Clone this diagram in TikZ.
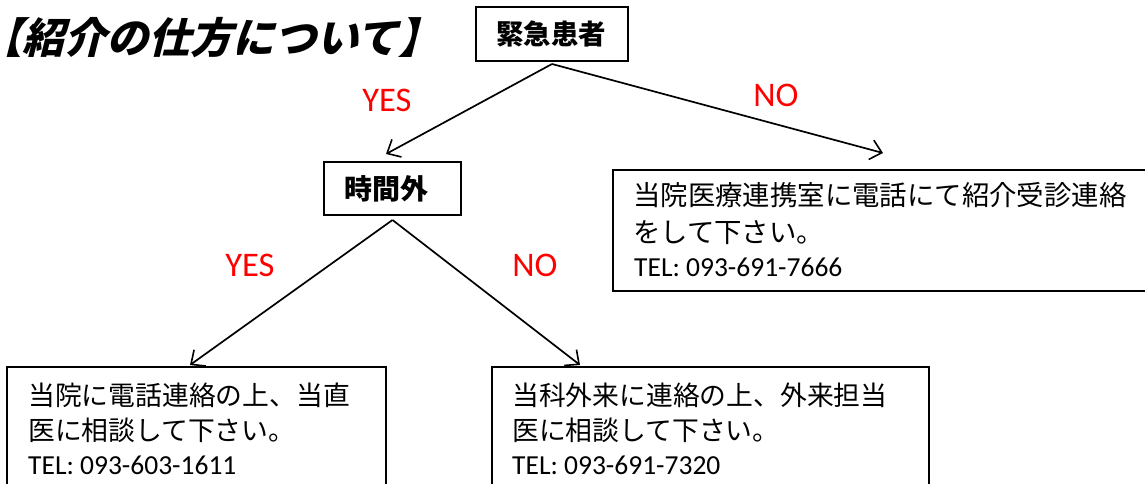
\documentclass[tikz,border=0pt]{standalone}
\usepackage{fontspec}
\setmainfont{Carlito}
\newfontfamily\cjk{Noto Sans CJK JP}
\newfontfamily\cjksl{Noto Sans CJK JP}[FakeSlant=0.25]
\usetikzlibrary{arrows.meta}
\begin{document}
\begin{tikzpicture}[x=1pt,y=-1pt,
  box/.style={draw=black, line width=1.9pt, inner sep=0pt, outer sep=0pt},
  arr/.style={line width=1.7pt, -{Straight Barb[length=11pt,width=20pt,line width=1.6pt]}},
  lab/.style={text=red, font=\fontsize{34.5}{40}\selectfont, inner sep=0pt},
  jtb/.style={font=\cjk\bfseries\fontsize{27.5}{32}\selectfont, inner sep=0pt},
  jt/.style={font=\cjk\fontsize{26.8}{32}\selectfont, inner sep=0pt, anchor=base west},
  jtr/.style={font=\cjk\fontsize{27.4}{32}\selectfont, inner sep=0pt, anchor=base west},
  tel/.style={font=\fontsize{27.5}{32}\selectfont, inner sep=0pt, anchor=base west}]
\useasboundingbox (0,0) rectangle (1145,484);
\clip (0,0) rectangle (1145,484);
% title
\node[font=\cjksl\bfseries\fontsize{42}{48}\selectfont, inner sep=0pt, anchor=base west] (title) at (0,54) {\kern-20pt【紹介の仕方について】};
% boxes
\node[box, minimum width=152pt, minimum height=54pt] (emg) at (552,34) {};
\node[jtb] (emgt) at (551,34) {緊急患者};
\node[box, minimum width=137pt, minimum height=53pt] (gai) at (392.5,188.5) {};
\node[jtb, font=\cjk\bfseries\fontsize{28}{32}\selectfont] (gait) at (386,189) {時間外};
\node[box, minimum width=552pt, minimum height=121pt] (rb) at (889,230.5) {};
\node[box, minimum width=379pt, minimum height=143pt] (lb) at (196.5,438.5) {};
\node[box, minimum width=437pt, minimum height=143pt] (mb) at (710.5,438.5) {};
% texts in boxes
\node[jtr] (r1) at (633,205) {当院医療連携室に電話にて紹介受診連絡};
\node[jtr] (r2) at (633,242) {をして下さい。};
\node[tel] (r3) at (634,276) {TEL: 093-691-7666};
\node[jt] (l1) at (28,405) {当院に電話連絡の上、当直};
\node[jt] (l2) at (28,440) {医に相談して下さい。};
\node[tel] (l3) at (28,474) {TEL: 093-603-1611};
\node[jt] (m1) at (512,405) {当科外来に連絡の上、外来担当};
\node[jt] (m2) at (512,440) {医に相談して下さい。};
\node[tel] (m3) at (512,474) {TEL: 093-691-7320};
% labels
\node[lab] (yes1) at (387,100) {YES};
\node[lab] (no1) at (776,95) {NO};
\node[lab] (yes2) at (250,265) {YES};
\node[lab] (no2) at (535,265) {NO};
% connector points
\coordinate (s1) at ([yshift=-3pt]emg.south);
\coordinate (t1) at (386,154);
\coordinate (t2) at (883,153);
\coordinate (s2) at ([yshift=-5pt]gai.south);
\coordinate (t3) at (190,365);
\coordinate (t4) at (580,365);
\draw[arr] (s1) -- (t1);
\draw[arr] (s1) -- (t2);
\draw[arr] (s2) -- (t3);
\draw[arr] (s2) -- (t4);
\end{tikzpicture}
\end{document}
